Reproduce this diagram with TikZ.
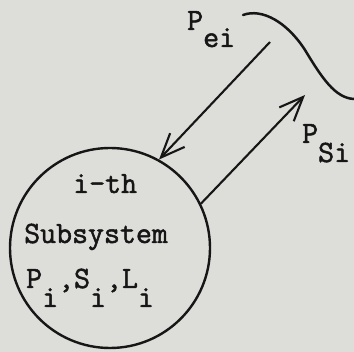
\documentclass[tikz,border=0pt]{standalone}
\usepackage{fontspec}
\setmonofont{Latin Modern Mono}[FakeBold=1.6]
\usepackage{xcolor}
\usepackage{tikz}
\usetikzlibrary{arrows.meta}
\definecolor{scanpaper}{RGB}{221,222,217}
\definecolor{scanink}{RGB}{22,22,22}
% typewriter lowered index, same size as the letter
\newcommand{\dn}[2][18pt]{\raisebox{-#1}{#2}}
\tikzset{
  subsys/.style={circle, draw=scanink, line width=2.4pt, minimum size=200pt,
                 inner sep=0pt},
  flow/.style={-{Straight Barb[length=24pt,width=20pt,line width=2.1pt]},
               draw=scanink, line width=2.1pt},
  type/.style={font=\fontsize{31}{36}\selectfont\ttfamily, text=scanink,
               inner sep=0pt, anchor=base west},
  edge/.style={draw=scanink, line width=2.5pt, line cap=round},
}
\begin{document}
\begin{tikzpicture}[x=1pt, y=-1pt]
% paper, same size as the scan
\useasboundingbox[fill=scanpaper] (0,0) rectangle (354,352);

% the subsystem and its text
\node[subsys] (sub) at (110,248) {};
\node[type] (ith) at (73,193) {i-th};
\node[type] (name) at (24,243) {Subsystem};
\node[type] (vars) at (26,288) {P\dn[19pt]{i},S\dn[19pt]{i},L\dn[19pt]{i}};

% exchange with the rest of the system
\coordinate (eitail) at (270,42);
\coordinate (sihead) at (305,95);
\draw[flow] (eitail) -- (sub.61);
\draw[flow] (sub.26) -- (sihead);
\node[type] (pei) at (187,30) {P\dn[17pt]{ei}};
\node[type] (psi) at (302,143) {P\dn[19pt]{Si}};

% boundary of the environment
\coordinate (envl) at (243,15);
\coordinate (envm) at (305,50);
\coordinate (envr) at (354,99);
\draw[edge] (envl) .. controls (262,8) and (287,22) .. (envm)
                   .. controls (322,78) and (335,98) .. (envr);
\end{tikzpicture}
\end{document}
